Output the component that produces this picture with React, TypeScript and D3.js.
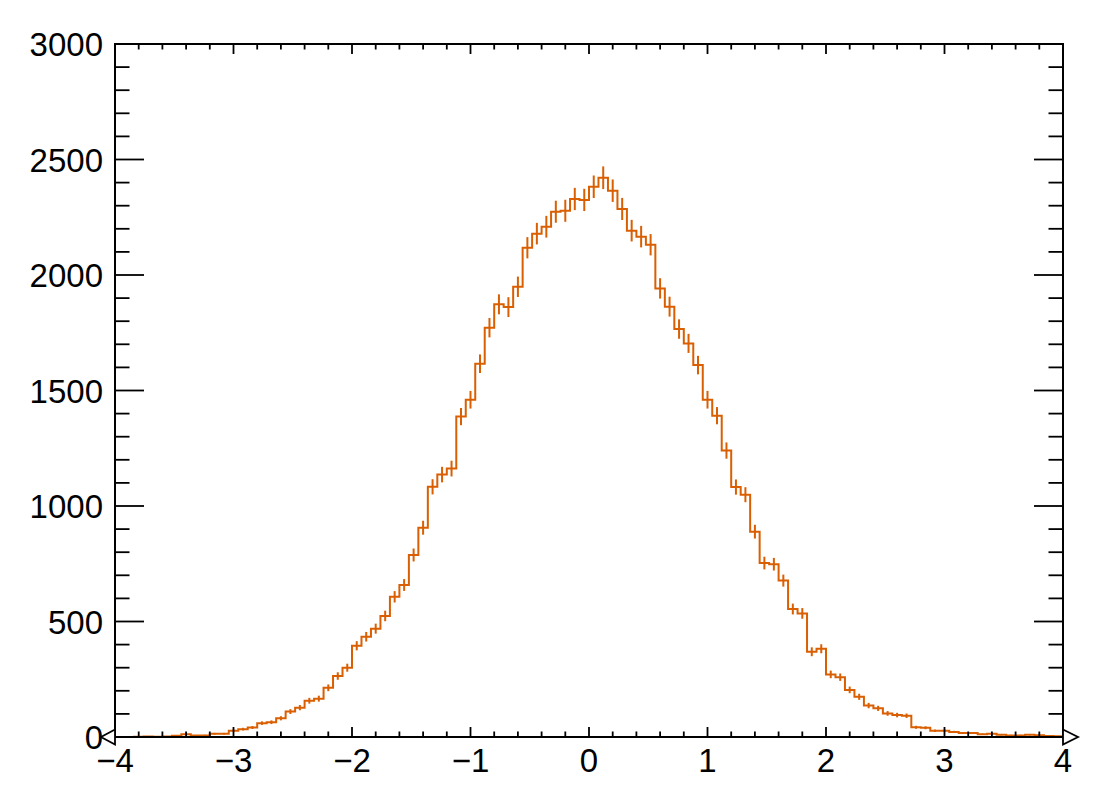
import React from "react";
import * as d3 from "d3";

// histogram: 100 bins over [-4, 4]
const xRange = [-4, 4];
const counts = [
  0, 0, 1, 2, 1, 2, 5, 12, 6, 7,
  14, 14, 27, 34, 41, 60, 64, 81, 110, 127,
  157, 166, 213, 264, 300, 395, 434, 469, 524, 607,
  658, 788, 906, 1083, 1136, 1162, 1387, 1460, 1616, 1772,
  1873, 1861, 1949, 2118, 2179, 2209, 2274, 2278, 2329, 2325,
  2382, 2421, 2365, 2286, 2192, 2166, 2131, 1942, 1863, 1766,
  1704, 1610, 1460, 1391, 1240, 1082, 1049, 889, 753, 748,
  677, 554, 535, 369, 382, 271, 259, 204, 174, 136,
  124, 102, 95, 92, 42, 40, 27, 27, 22, 17,
  17, 12, 14, 10, 7, 7, 10, 8, 4, 3,
];
const xTickLabels = ["\u22124", "\u22123", "\u22122", "\u22121", "0", "1", "2", "3", "4"];
const yTickLabels = ["0", "500", "1000", "1500", "2000", "2500", "3000"];

const W = 1103;
const H = 809;
const frame = { left: 115, right: 1063, top: 44, bottom: 737 };
const lineColor = "#d95f02";
const font = "'Liberation Sans', Arial, Helvetica, sans-serif";

export default function App() {
  const ref = React.useRef<SVGSVGElement | null>(null);

  React.useEffect(() => {
    if (!ref.current) return;
    const svg = d3.select(ref.current);
    svg.selectAll("*").remove();

    const x = d3.scaleLinear().domain(xRange).range([frame.left, frame.right]);
    const y = d3.scaleLinear().domain([0, 3000]).range([frame.bottom, frame.top]);
    const nb = counts.length;
    const bw = (xRange[1] - xRange[0]) / nb;

    // histogram outline
    const pts: [number, number][] = [];
    counts.forEach((c, i) => {
      const x0 = xRange[0] + i * bw;
      pts.push([x(x0), y(c)]);
      pts.push([x(x0 + bw), y(c)]);
    });
    svg
      .append("path")
      .attr("d", d3.line()(pts))
      .attr("fill", "none")
      .attr("stroke", lineColor)
      .attr("stroke-width", 2);

    // poisson error bars
    svg
      .append("g")
      .selectAll("line")
      .data(counts.map((c, i) => ({ c, i })).filter(d => d.c > 0))
      .join("line")
      .attr("x1", d => x(xRange[0] + (d.i + 0.5) * bw))
      .attr("x2", d => x(xRange[0] + (d.i + 0.5) * bw))
      .attr("y1", d => y(d.c - Math.sqrt(d.c)))
      .attr("y2", d => y(d.c + Math.sqrt(d.c)))
      .attr("stroke", lineColor)
      .attr("stroke-width", 2);

    // frame
    svg
      .append("rect")
      .attr("x", frame.left)
      .attr("y", frame.top)
      .attr("width", frame.right - frame.left)
      .attr("height", frame.bottom - frame.top)
      .attr("fill", "none")
      .attr("stroke", "black")
      .attr("stroke-width", 2);

    const ticks = svg.append("g").attr("stroke", "black").attr("stroke-width", 1.8);

    // y ticks, both sides
    d3.range(0, 3001, 100).forEach(v => {
      const len = v % 500 === 0 ? 29 : 14.5;
      ticks.append("line").attr("x1", frame.left).attr("x2", frame.left + len).attr("y1", y(v)).attr("y2", y(v));
      ticks.append("line").attr("x1", frame.right).attr("x2", frame.right - len).attr("y1", y(v)).attr("y2", y(v));
    });

    // x ticks, bottom and top
    d3.range(0, 41).forEach(k => {
      const v = xRange[0] + k * 0.2;
      const len = k % 5 === 0 ? 10 : 5.5;
      ticks.append("line").attr("x1", x(v)).attr("x2", x(v)).attr("y1", frame.bottom).attr("y2", frame.bottom - len);
      ticks.append("line").attr("x1", x(v)).attr("x2", x(v)).attr("y1", frame.top).attr("y2", frame.top + len);
    });

    // axis arrows
    const ay = frame.bottom;
    svg
      .append("path")
      .attr("d", `M${frame.left},${ay - 7.5}L${frame.left - 14},${ay}L${frame.left},${ay + 7.5}Z`)
      .attr("fill", "white")
      .attr("stroke", "black")
      .attr("stroke-width", 1.8);
    svg
      .append("path")
      .attr("d", `M${frame.right},${ay - 7.5}L${frame.right + 15},${ay}L${frame.right},${ay + 7.5}Z`)
      .attr("fill", "white")
      .attr("stroke", "black")
      .attr("stroke-width", 1.8);

    // labels
    const labels = svg.append("g").attr("font-family", font).attr("font-size", 33).attr("fill", "black");
    yTickLabels.forEach(t => {
      labels
        .append("text")
        .attr("x", 103)
        .attr("y", y(+t) + 12)
        .attr("text-anchor", "end")
        .text(t);
    });
    xTickLabels.forEach(t => {
      labels
        .append("text")
        .attr("x", x(+t.replace("\u2212", "-")))
        .attr("y", 772)
        .attr("text-anchor", "middle")
        .text(t);
    });
  }, []);

  return (
    <svg
      ref={ref}
      width={W}
      height={H}
      style={{ position: "absolute", left: 0, top: 0, background: "white" }}
    ></svg>
  );
}
